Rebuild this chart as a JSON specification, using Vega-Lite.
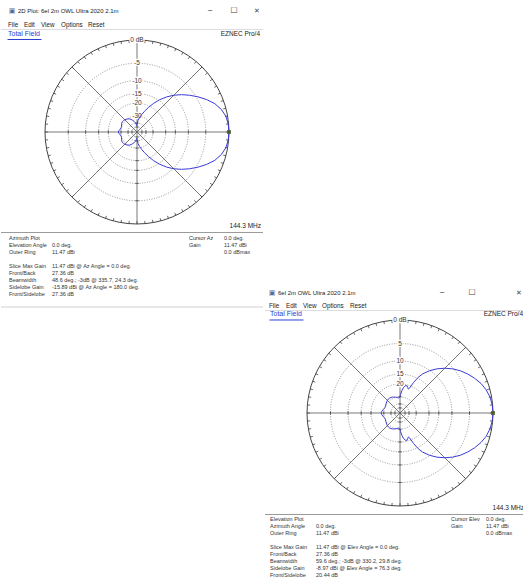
{
"$schema": "https://vega.github.io/schema/vega-lite/v6.json",
"padding": 0,
"background": "white",
"spacing": 0,
"config": {"view": {"stroke": null}, "axis": {"disable": true}, "legend": {"disable": true}, "font": "Liberation Sans", "text": {"font": "Liberation Sans"}},
"datasets": {
"rings": [{"db":-5},{"db":-10},{"db":-15},{"db":-20},{"db":-30},{"db":-40},{"db":-50}],
"spokes": [{"a":0},{"a":45},{"a":90},{"a":135}],
"deg5": [{"a":0},{"a":5},{"a":10},{"a":15},{"a":20},{"a":25},{"a":30},{"a":35},{"a":40},{"a":45},{"a":50},{"a":55},{"a":60},{"a":65},{"a":70},{"a":75},{"a":80},{"a":85},{"a":90},{"a":95},{"a":100},{"a":105},{"a":110},{"a":115},{"a":120},{"a":125},{"a":130},{"a":135},{"a":140},{"a":145},{"a":150},{"a":155},{"a":160},{"a":165},{"a":170},{"a":175},{"a":180},{"a":185},{"a":190},{"a":195},{"a":200},{"a":205},{"a":210},{"a":215},{"a":220},{"a":225},{"a":230},{"a":235},{"a":240},{"a":245},{"a":250},{"a":255},{"a":260},{"a":265},{"a":270},{"a":275},{"a":280},{"a":285},{"a":290},{"a":295},{"a":300},{"a":305},{"a":310},{"a":315},{"a":320},{"a":325},{"a":330},{"a":335},{"a":340},{"a":345},{"a":350},{"a":355}],
"labels1": [{"db":0,"t":"0 dB"},{"db":-5,"t":"-5"},{"db":-10,"t":"-10"},{"db":-15,"t":"-15"},{"db":-20,"t":"-20"},{"db":-30,"t":"-30"}],
"labels2": [{"db":0,"t":"0 dB"},{"db":-5,"t":"5"},{"db":-10,"t":"10"},{"db":-15,"t":"15"},{"db":-20,"t":"20"}],
"azimuth": [
{"a":0,"d":0},{"a":5,"d":-0.08},{"a":10,"d":-0.33},{"a":15,"d":-0.9},{"a":20,"d":-1.8},{"a":25,"d":-3.1},{"a":30,"d":-4.6},{"a":35,"d":-6.2},{"a":40,"d":-7.9},{"a":45,"d":-9.8},{"a":50,"d":-12.0},{"a":55,"d":-14.6},{"a":60,"d":-17.6},{"a":65,"d":-21.0},{"a":70,"d":-24.5},{"a":75,"d":-28.0},{"a":80,"d":-31.5},{"a":85,"d":-35.5},{"a":88,"d":-40},{"a":90,"d":-44},{"a":92,"d":-46},{"a":95,"d":-43},{"a":100,"d":-39},{"a":105,"d":-36.5},{"a":110,"d":-34.5},{"a":115,"d":-32.5},{"a":120,"d":-31},{"a":125,"d":-30},{"a":130,"d":-29.3},{"a":135,"d":-28.7},{"a":140,"d":-28.3},{"a":145,"d":-28.1},{"a":150,"d":-28.3},{"a":155,"d":-28.9},{"a":160,"d":-29.5},{"a":165,"d":-29.6},{"a":170,"d":-29.0},{"a":175,"d":-28.0},{"a":180,"d":-27.36},
{"a":185,"d":-28.0},{"a":190,"d":-29.0},{"a":195,"d":-29.6},{"a":200,"d":-29.5},{"a":205,"d":-28.9},{"a":210,"d":-28.3},{"a":215,"d":-28.1},{"a":220,"d":-28.3},{"a":225,"d":-28.7},{"a":230,"d":-29.3},{"a":235,"d":-30},{"a":240,"d":-31},{"a":245,"d":-32.5},{"a":250,"d":-34.5},{"a":255,"d":-36.5},{"a":260,"d":-39},{"a":265,"d":-43},{"a":268,"d":-46},{"a":270,"d":-44},{"a":272,"d":-40},{"a":275,"d":-35.5},{"a":280,"d":-31.5},{"a":285,"d":-28.0},{"a":290,"d":-24.5},{"a":295,"d":-21.0},{"a":300,"d":-17.6},{"a":305,"d":-14.6},{"a":310,"d":-12.0},{"a":315,"d":-9.8},{"a":320,"d":-7.9},{"a":325,"d":-6.2},{"a":330,"d":-4.6},{"a":335,"d":-3.1},{"a":340,"d":-1.8},{"a":345,"d":-0.9},{"a":350,"d":-0.33},{"a":355,"d":-0.08},{"a":360,"d":0}],
"elevation": [
{"a":0,"d":0},{"a":5,"d":-0.08},{"a":10,"d":-0.3},{"a":15,"d":-0.7},{"a":20,"d":-1.3},{"a":25,"d":-2.1},{"a":30,"d":-3.0},{"a":35,"d":-4.0},{"a":40,"d":-5.2},{"a":45,"d":-6.6},{"a":50,"d":-8.2},{"a":55,"d":-10.1},{"a":60,"d":-12.4},{"a":63,"d":-14.5},{"a":66,"d":-17.5},{"a":69,"d":-21.5},{"a":71,"d":-22.3},{"a":73,"d":-21.5},{"a":76,"d":-20.44},{"a":79,"d":-20.8},{"a":82,"d":-22.0},{"a":85,"d":-24.2},{"a":88,"d":-27.5},{"a":90,"d":-29.5},{"a":93,"d":-31.0},{"a":96,"d":-31.2},{"a":100,"d":-30.5},{"a":105,"d":-29.8},{"a":110,"d":-29.2},{"a":115,"d":-28.6},{"a":120,"d":-28.2},{"a":125,"d":-28.0},{"a":130,"d":-28.0},{"a":135,"d":-28.3},{"a":140,"d":-28.8},{"a":145,"d":-29.3},{"a":150,"d":-29.8},{"a":155,"d":-30.2},{"a":160,"d":-30.2},{"a":165,"d":-29.6},{"a":170,"d":-28.7},{"a":175,"d":-27.9},{"a":180,"d":-27.36},
{"a":185,"d":-27.9},{"a":190,"d":-28.7},{"a":195,"d":-29.6},{"a":200,"d":-30.2},{"a":205,"d":-30.2},{"a":210,"d":-29.8},{"a":215,"d":-29.3},{"a":220,"d":-28.8},{"a":225,"d":-28.3},{"a":230,"d":-28.0},{"a":235,"d":-28.0},{"a":240,"d":-28.2},{"a":245,"d":-28.6},{"a":250,"d":-29.2},{"a":255,"d":-29.8},{"a":260,"d":-30.5},{"a":264,"d":-31.2},{"a":267,"d":-31.0},{"a":270,"d":-29.5},{"a":272,"d":-27.5},{"a":275,"d":-24.2},{"a":278,"d":-22.0},{"a":281,"d":-20.8},{"a":284,"d":-20.44},{"a":287,"d":-21.5},{"a":289,"d":-22.3},{"a":291,"d":-21.5},{"a":294,"d":-17.5},{"a":297,"d":-14.5},{"a":300,"d":-12.4},{"a":305,"d":-10.1},{"a":310,"d":-8.2},{"a":315,"d":-6.6},{"a":320,"d":-5.2},{"a":325,"d":-4.0},{"a":330,"d":-3.0},{"a":335,"d":-2.1},{"a":340,"d":-1.3},{"a":345,"d":-0.7},{"a":350,"d":-0.3},{"a":355,"d":-0.08},{"a":360,"d":0}],
"info1": [
{"r":0,"c":0,"t":"Azimuth Plot"},
{"r":1,"c":0,"t":"Elevation Angle"},{"r":1,"c":1,"t":"0.0 deg."},
{"r":2,"c":0,"t":"Outer Ring"},{"r":2,"c":1,"t":"11.47 dBi"},
{"r":4,"c":0,"t":"Slice Max Gain"},{"r":4,"c":1,"t":"11.47 dBi @ Az Angle = 0.0 deg."},
{"r":5,"c":0,"t":"Front/Back"},{"r":5,"c":1,"t":"27.36 dB"},
{"r":6,"c":0,"t":"Beamwidth"},{"r":6,"c":1,"t":"48.6 deg.; -3dB @ 335.7, 24.3 deg."},
{"r":7,"c":0,"t":"Sidelobe Gain"},{"r":7,"c":1,"t":"-15.89 dBi @ Az Angle = 180.0 deg."},
{"r":8,"c":0,"t":"Front/Sidelobe"},{"r":8,"c":1,"t":"27.36 dB"},
{"r":0,"c":2,"t":"Cursor Az"},{"r":0,"c":3,"t":"0.0 deg."},
{"r":1,"c":2,"t":"Gain"},{"r":1,"c":3,"t":"11.47 dBi"},
{"r":2,"c":3,"t":"0.0 dBmax"}],
"info2": [
{"r":0,"c":0,"t":"Elevation Plot"},
{"r":1,"c":0,"t":"Azimuth Angle"},{"r":1,"c":1,"t":"0.0 deg."},
{"r":2,"c":0,"t":"Outer Ring"},{"r":2,"c":1,"t":"11.47 dBi"},
{"r":4,"c":0,"t":"Slice Max Gain"},{"r":4,"c":1,"t":"11.47 dBi @ Elev Angle = 0.0 deg."},
{"r":5,"c":0,"t":"Front/Back"},{"r":5,"c":1,"t":"27.36 dB"},
{"r":6,"c":0,"t":"Beamwidth"},{"r":6,"c":1,"t":"59.6 deg.; -3dB @ 330.2, 29.8 deg."},
{"r":7,"c":0,"t":"Sidelobe Gain"},{"r":7,"c":1,"t":"-8.97 dBi @ Elev Angle = 76.3 deg."},
{"r":8,"c":0,"t":"Front/Sidelobe"},{"r":8,"c":1,"t":"20.44 dB"},
{"r":0,"c":2,"t":"Cursor Elev"},{"r":0,"c":3,"t":"0.0 deg."},
{"r":1,"c":2,"t":"Gain"},{"r":1,"c":3,"t":"11.47 dBi"},
{"r":2,"c":3,"t":"0.0 dBmax"}]
},
"hconcat": [
{"spacing": 0, "bounds": "flush", "vconcat": [
{"width": 262, "height": 232, "layer": [
{"data":{"values":[{}]},"mark":{"type":"rule","stroke":"#dcdcdc","strokeWidth":1},"encoding":{"y":{"datum":1.1141,"type":"quantitative","scale":{"domain":[-1.087,1.4348],"nice":false,"zero":false}}}},
{"data":{"name":"rings"},"transform":[{"calculate":"pow(0.89,-datum.db/2)","as":"r"}],"mark":{"type":"arc","theta":0,"theta2":6.2832,"filled":false,"stroke":"#7a7a7a","strokeWidth":0.8,"strokeDash":[1,1.5]},"encoding":{"x":{"datum":0,"type":"quantitative","scale":{"domain":[-1.4783,1.3696],"nice":false,"zero":false}},"y":{"datum":0,"type":"quantitative"},"radius":{"field":"r","type":"quantitative","stack":null,"scale":{"type":"linear","domain":[0,1],"range":[0,92],"zero":true,"nice":false}}}},
{"data":{"values":[{"r":1}]},"mark":{"type":"arc","theta":0,"theta2":6.2832,"filled":false,"stroke":"#444","strokeWidth":1},"encoding":{"x":{"datum":0,"type":"quantitative"},"y":{"datum":0,"type":"quantitative"},"radius":{"field":"r","type":"quantitative","stack":null,"scale":{"type":"linear","domain":[0,1],"range":[0,92],"zero":true,"nice":false}}}},
{"data":{"name":"spokes"},"transform":[{"calculate":"cos(datum.a*PI/180)","as":"x"},{"calculate":"sin(datum.a*PI/180)","as":"y"},{"calculate":"-datum.x","as":"x2"},{"calculate":"-datum.y","as":"y2"}],"mark":{"type":"rule","stroke":"#555","strokeWidth":0.8},"encoding":{"x":{"field":"x","type":"quantitative"},"y":{"field":"y","type":"quantitative"},"x2":{"field":"x2"},"y2":{"field":"y2"}}},
{"data":{"name":"deg5"},"transform":[{"calculate":"cos(datum.a*PI/180)","as":"x"},{"calculate":"sin(datum.a*PI/180)","as":"y"},{"calculate":"0.97*datum.x","as":"x2"},{"calculate":"0.97*datum.y","as":"y2"}],"mark":{"type":"rule","stroke":"#444","strokeWidth":0.8},"encoding":{"x":{"field":"x","type":"quantitative"},"y":{"field":"y","type":"quantitative"},"x2":{"field":"x2"},"y2":{"field":"y2"}}},
{"data":{"name":"rings"},"transform":[{"calculate":"pow(0.89,-datum.db/2)","as":"p"},{"calculate":"-datum.p","as":"n"},{"fold":["p","n"],"as":["k","v"]}],"mark":{"type":"point","shape":"M0,-1L0,1","size":12,"filled":false,"stroke":"#444","strokeWidth":0.8,"opacity":1},"encoding":{"x":{"field":"v","type":"quantitative"},"y":{"datum":0,"type":"quantitative"}}},
{"data":{"name":"rings"},"transform":[{"calculate":"pow(0.89,-datum.db/2)","as":"p"},{"calculate":"-datum.p","as":"n"},{"fold":["p","n"],"as":["k","v"]}],"mark":{"type":"point","shape":"M-1,0L1,0","size":12,"filled":false,"stroke":"#444","strokeWidth":0.8,"opacity":1},"encoding":{"y":{"field":"v","type":"quantitative"},"x":{"datum":0,"type":"quantitative"}}},
{"data":{"name":"labels1"},"transform":[{"calculate":"pow(0.89,-datum.db/2)","as":"r"}],"mark":{"type":"text","fontSize":6.5,"fill":"white","stroke":"white","strokeWidth":2.5,"align":"center","baseline":"middle"},"encoding":{"x":{"datum":0,"type":"quantitative"},"y":{"field":"r","type":"quantitative"},"text":{"field":"t"}}},
{"data":{"name":"labels1"},"transform":[{"calculate":"pow(0.89,-datum.db/2)","as":"r"}],"mark":{"type":"text","fontSize":6.5,"fill":"#333","align":"center","baseline":"middle"},"encoding":{"x":{"datum":0,"type":"quantitative"},"y":{"field":"r","type":"quantitative"},"text":{"field":"t"}}},
{"data":{"name":"azimuth"},"transform":[{"calculate":"pow(0.89,-datum.d/2)","as":"r"},{"calculate":"datum.r*cos(datum.a*PI/180)","as":"x"},{"calculate":"datum.r*sin(datum.a*PI/180)","as":"y"}],"mark":{"type":"line","stroke":"#3b3bd4","strokeWidth":1},"encoding":{"x":{"field":"x","type":"quantitative"},"y":{"field":"y","type":"quantitative"},"order":{"field":"a","type":"quantitative"}}},
{"data":{"values":[{}]},"mark":{"type":"square","size":14,"color":"#4d5e2a","filled":true,"opacity":1},"encoding":{"x":{"datum":1,"type":"quantitative"},"y":{"datum":0,"type":"quantitative"}}},
{"data":{"values":[{}]},"mark":{"type":"text","text":"▣","font":"DejaVu Sans","fontSize":7,"fill":"#4a6fa5","align":"center","baseline":"middle"},"encoding":{"x":{"datum":-1.3587,"type":"quantitative"},"y":{"datum":1.3098,"type":"quantitative"}}},
{"data":{"values":[{}]},"mark":{"type":"text","text":"2D Plot: 6el 2m OWL Ultra 2020 2.1m","fontSize":6,"fill":"#222","align":"left","baseline":"middle"},"encoding":{"x":{"datum":-1.2935,"type":"quantitative"},"y":{"datum":1.3098,"type":"quantitative"}}},
{"data":{"values":[{}]},"mark":{"type":"text","text":"─","font":"DejaVu Sans","fontSize":7,"fill":"#444","align":"center","baseline":"middle"},"encoding":{"x":{"datum":0.7935,"type":"quantitative"},"y":{"datum":1.3098,"type":"quantitative"}}},
{"data":{"values":[{}]},"mark":{"type":"text","text":"☐","font":"DejaVu Sans","fontSize":8,"fill":"#444","align":"center","baseline":"middle"},"encoding":{"x":{"datum":1.0543,"type":"quantitative"},"y":{"datum":1.3098,"type":"quantitative"}}},
{"data":{"values":[{}]},"mark":{"type":"text","text":"✕","font":"DejaVu Sans","fontSize":7,"fill":"#444","align":"center","baseline":"middle"},"encoding":{"x":{"datum":1.3043,"type":"quantitative"},"y":{"datum":1.3098,"type":"quantitative"}}},
{"data":{"values":[{}]},"mark":{"type":"text","text":"File","fontSize":6.3,"fill":"#222","align":"left","baseline":"middle"},"encoding":{"x":{"datum":-1.4022,"type":"quantitative"},"y":{"datum":1.163,"type":"quantitative"}}},
{"data":{"values":[{}]},"mark":{"type":"text","text":"Edit","fontSize":6.3,"fill":"#222","align":"left","baseline":"middle"},"encoding":{"x":{"datum":-1.2283,"type":"quantitative"},"y":{"datum":1.163,"type":"quantitative"}}},
{"data":{"values":[{}]},"mark":{"type":"text","text":"View","fontSize":6.3,"fill":"#222","align":"left","baseline":"middle"},"encoding":{"x":{"datum":-1.0435,"type":"quantitative"},"y":{"datum":1.163,"type":"quantitative"}}},
{"data":{"values":[{}]},"mark":{"type":"text","text":"Options","fontSize":6.3,"fill":"#222","align":"left","baseline":"middle"},"encoding":{"x":{"datum":-0.8261,"type":"quantitative"},"y":{"datum":1.163,"type":"quantitative"}}},
{"data":{"values":[{}]},"mark":{"type":"text","text":"Reset","fontSize":6.3,"fill":"#222","align":"left","baseline":"middle"},"encoding":{"x":{"datum":-0.5326,"type":"quantitative"},"y":{"datum":1.163,"type":"quantitative"}}},
{"data":{"values":[{}]},"mark":{"type":"text","text":"Total Field","fontSize":7,"fill":"#2b3fd1","align":"left","baseline":"middle"},"encoding":{"x":{"datum":-1.4022,"type":"quantitative"},"y":{"datum":1.0652,"type":"quantitative"}}},
{"data":{"values":[{}]},"mark":{"type":"rule","stroke":"#2b3fd1","strokeWidth":1},"encoding":{"x":{"datum":-1.4076,"type":"quantitative"},"x2":{"datum":-1.038},"y":{"datum":1.0054,"type":"quantitative"}}},
{"data":{"values":[{}]},"mark":{"type":"text","text":"EZNEC Pro/4","fontSize":6.5,"fill":"#222","align":"right","baseline":"middle"},"encoding":{"x":{"datum":1.337,"type":"quantitative"},"y":{"datum":1.0652,"type":"quantitative"}}},
{"data":{"values":[{}]},"mark":{"type":"text","text":"144.3 MHz","fontSize":6.5,"fill":"#222","align":"right","baseline":"middle"},"encoding":{"x":{"datum":1.3478,"type":"quantitative"},"y":{"datum":-1.0272,"type":"quantitative"}}}
]},
{"width": 262, "height": 78, "layer": [
{"data":{"values":[{}]},"mark":{"type":"rule","stroke":"#9a9a9a","strokeWidth":1},"encoding":{"y":{"datum":-0.786,"type":"quantitative","scale":{"domain":[-0.857,10.286],"reverse":true,"nice":false,"zero":false}}}},
{"data":{"values":[{}]},"mark":{"type":"rule","stroke":"#d0d0d0","strokeWidth":1},"encoding":{"y":{"datum":9.857,"type":"quantitative"}}},
{"data":{"name":"info1"},"mark":{"type":"text","fontSize":5.5,"fill":"#333","align":"left","baseline":"middle"},"encoding":{"x":{"field":"c","type":"quantitative","scale":{"type":"linear","domain":[0,1,2,3],"range":[8,51,188,223],"nice":false,"zero":false}},"y":{"field":"r","type":"quantitative"},"text":{"field":"t"}}}
]}
]},
{"spacing": 0, "bounds": "flush", "vconcat": [
{"width": 261, "height": 283, "data": {"values": []}, "mark": "point", "encoding": {}},
{"width": 261, "height": 230, "layer": [
{"data":{"values":[{}]},"mark":{"type":"rule","stroke":"#dcdcdc","strokeWidth":1},"encoding":{"y":{"datum":1.1022,"type":"quantitative","scale":{"domain":[-1.0753,1.3978],"nice":false,"zero":false}}}},
{"data":{"name":"rings"},"transform":[{"calculate":"pow(0.89,-datum.db/2)","as":"r"}],"mark":{"type":"arc","theta":0,"theta2":6.2832,"filled":false,"stroke":"#7a7a7a","strokeWidth":0.8,"strokeDash":[1,1.5]},"encoding":{"x":{"datum":0,"type":"quantitative","scale":{"domain":[-1.4516,1.3548],"nice":false,"zero":false}},"y":{"datum":0,"type":"quantitative"},"radius":{"field":"r","type":"quantitative","stack":null,"scale":{"type":"linear","domain":[0,1],"range":[0,93],"zero":true,"nice":false}}}},
{"data":{"values":[{"r":1}]},"mark":{"type":"arc","theta":0,"theta2":6.2832,"filled":false,"stroke":"#444","strokeWidth":1},"encoding":{"x":{"datum":0,"type":"quantitative"},"y":{"datum":0,"type":"quantitative"},"radius":{"field":"r","type":"quantitative","stack":null,"scale":{"type":"linear","domain":[0,1],"range":[0,93],"zero":true,"nice":false}}}},
{"data":{"name":"spokes"},"transform":[{"calculate":"cos(datum.a*PI/180)","as":"x"},{"calculate":"sin(datum.a*PI/180)","as":"y"},{"calculate":"-datum.x","as":"x2"},{"calculate":"-datum.y","as":"y2"}],"mark":{"type":"rule","stroke":"#555","strokeWidth":0.8},"encoding":{"x":{"field":"x","type":"quantitative"},"y":{"field":"y","type":"quantitative"},"x2":{"field":"x2"},"y2":{"field":"y2"}}},
{"data":{"name":"deg5"},"transform":[{"calculate":"cos(datum.a*PI/180)","as":"x"},{"calculate":"sin(datum.a*PI/180)","as":"y"},{"calculate":"0.97*datum.x","as":"x2"},{"calculate":"0.97*datum.y","as":"y2"}],"mark":{"type":"rule","stroke":"#444","strokeWidth":0.8},"encoding":{"x":{"field":"x","type":"quantitative"},"y":{"field":"y","type":"quantitative"},"x2":{"field":"x2"},"y2":{"field":"y2"}}},
{"data":{"name":"rings"},"transform":[{"calculate":"pow(0.89,-datum.db/2)","as":"p"},{"calculate":"-datum.p","as":"n"},{"fold":["p","n"],"as":["k","v"]}],"mark":{"type":"point","shape":"M0,-1L0,1","size":12,"filled":false,"stroke":"#444","strokeWidth":0.8,"opacity":1},"encoding":{"x":{"field":"v","type":"quantitative"},"y":{"datum":0,"type":"quantitative"}}},
{"data":{"name":"rings"},"transform":[{"calculate":"pow(0.89,-datum.db/2)","as":"p"},{"calculate":"-datum.p","as":"n"},{"fold":["p","n"],"as":["k","v"]}],"mark":{"type":"point","shape":"M-1,0L1,0","size":12,"filled":false,"stroke":"#444","strokeWidth":0.8,"opacity":1},"encoding":{"y":{"field":"v","type":"quantitative"},"x":{"datum":0,"type":"quantitative"}}},
{"data":{"name":"labels2"},"transform":[{"calculate":"pow(0.89,-datum.db/2)","as":"r"}],"mark":{"type":"text","fontSize":6.5,"fill":"white","stroke":"white","strokeWidth":2.5,"align":"center","baseline":"middle"},"encoding":{"x":{"datum":0,"type":"quantitative"},"y":{"field":"r","type":"quantitative"},"text":{"field":"t"}}},
{"data":{"name":"labels2"},"transform":[{"calculate":"pow(0.89,-datum.db/2)","as":"r"}],"mark":{"type":"text","fontSize":6.5,"fill":"#333","align":"center","baseline":"middle"},"encoding":{"x":{"datum":0,"type":"quantitative"},"y":{"field":"r","type":"quantitative"},"text":{"field":"t"}}},
{"data":{"name":"elevation"},"transform":[{"calculate":"pow(0.89,-datum.d/2)","as":"r"},{"calculate":"datum.r*cos(datum.a*PI/180)","as":"x"},{"calculate":"datum.r*sin(datum.a*PI/180)","as":"y"}],"mark":{"type":"line","stroke":"#3b3bd4","strokeWidth":1},"encoding":{"x":{"field":"x","type":"quantitative"},"y":{"field":"y","type":"quantitative"},"order":{"field":"a","type":"quantitative"}}},
{"data":{"values":[{}]},"mark":{"type":"square","size":14,"color":"#4d5e2a","filled":true,"opacity":1},"encoding":{"x":{"datum":1,"type":"quantitative"},"y":{"datum":0,"type":"quantitative"}}},
{"data":{"values":[{}]},"mark":{"type":"text","text":"▣","font":"DejaVu Sans","fontSize":7,"fill":"#4a6fa5","align":"center","baseline":"middle"},"encoding":{"x":{"datum":-1.3763,"type":"quantitative"},"y":{"datum":1.2903,"type":"quantitative"}}},
{"data":{"values":[{}]},"mark":{"type":"text","text":"6el 2m OWL Ultra 2020 2.1m","fontSize":6,"fill":"#222","align":"left","baseline":"middle"},"encoding":{"x":{"datum":-1.3118,"type":"quantitative"},"y":{"datum":1.2903,"type":"quantitative"}}},
{"data":{"values":[{}]},"mark":{"type":"text","text":"─","font":"DejaVu Sans","fontSize":7,"fill":"#444","align":"center","baseline":"middle"},"encoding":{"x":{"datum":0.4516,"type":"quantitative"},"y":{"datum":1.2903,"type":"quantitative"}}},
{"data":{"values":[{}]},"mark":{"type":"text","text":"☐","font":"DejaVu Sans","fontSize":8,"fill":"#444","align":"center","baseline":"middle"},"encoding":{"x":{"datum":0.7742,"type":"quantitative"},"y":{"datum":1.2903,"type":"quantitative"}}},
{"data":{"values":[{}]},"mark":{"type":"text","text":"✕","font":"DejaVu Sans","fontSize":7,"fill":"#444","align":"center","baseline":"middle"},"encoding":{"x":{"datum":1.2796,"type":"quantitative"},"y":{"datum":1.2903,"type":"quantitative"}}},
{"data":{"values":[{}]},"mark":{"type":"text","text":"File","fontSize":6.3,"fill":"#222","align":"left","baseline":"middle"},"encoding":{"x":{"datum":-1.4086,"type":"quantitative"},"y":{"datum":1.1505,"type":"quantitative"}}},
{"data":{"values":[{}]},"mark":{"type":"text","text":"Edit","fontSize":6.3,"fill":"#222","align":"left","baseline":"middle"},"encoding":{"x":{"datum":-1.2258,"type":"quantitative"},"y":{"datum":1.1505,"type":"quantitative"}}},
{"data":{"values":[{}]},"mark":{"type":"text","text":"View","fontSize":6.3,"fill":"#222","align":"left","baseline":"middle"},"encoding":{"x":{"datum":-1.043,"type":"quantitative"},"y":{"datum":1.1505,"type":"quantitative"}}},
{"data":{"values":[{}]},"mark":{"type":"text","text":"Options","fontSize":6.3,"fill":"#222","align":"left","baseline":"middle"},"encoding":{"x":{"datum":-0.8387,"type":"quantitative"},"y":{"datum":1.1505,"type":"quantitative"}}},
{"data":{"values":[{}]},"mark":{"type":"text","text":"Reset","fontSize":6.3,"fill":"#222","align":"left","baseline":"middle"},"encoding":{"x":{"datum":-0.5376,"type":"quantitative"},"y":{"datum":1.1505,"type":"quantitative"}}},
{"data":{"values":[{}]},"mark":{"type":"text","text":"Total Field","fontSize":7,"fill":"#2b3fd1","align":"left","baseline":"middle"},"encoding":{"x":{"datum":-1.3978,"type":"quantitative"},"y":{"datum":1.0645,"type":"quantitative"}}},
{"data":{"values":[{}]},"mark":{"type":"rule","stroke":"#2b3fd1","strokeWidth":1},"encoding":{"x":{"datum":-1.4032,"type":"quantitative"},"x2":{"datum":-1.0376},"y":{"datum":1.0,"type":"quantitative"}}},
{"data":{"values":[{}]},"mark":{"type":"text","text":"EZNEC Pro/4","fontSize":6.5,"fill":"#222","align":"right","baseline":"middle"},"encoding":{"x":{"datum":1.3226,"type":"quantitative"},"y":{"datum":1.0645,"type":"quantitative"}}},
{"data":{"values":[{}]},"mark":{"type":"text","text":"144.3 MHz","fontSize":6.5,"fill":"#222","align":"right","baseline":"middle"},"encoding":{"x":{"datum":1.3333,"type":"quantitative"},"y":{"datum":-1.0215,"type":"quantitative"}}}
]},
{"width": 261, "height": 70, "layer": [
{"data":{"values":[{}]},"mark":{"type":"rule","stroke":"#9a9a9a","strokeWidth":1},"encoding":{"y":{"datum":-0.643,"type":"quantitative","scale":{"domain":[-0.857,9.143],"reverse":true,"nice":false,"zero":false}}}},
{"data":{"name":"info2"},"mark":{"type":"text","fontSize":5.5,"fill":"#333","align":"left","baseline":"middle"},"encoding":{"x":{"field":"c","type":"quantitative","scale":{"type":"linear","domain":[0,1,2,3],"range":[5,51,186,221],"nice":false,"zero":false}},"y":{"field":"r","type":"quantitative"},"text":{"field":"t"}}}
]}
]}
]
}
